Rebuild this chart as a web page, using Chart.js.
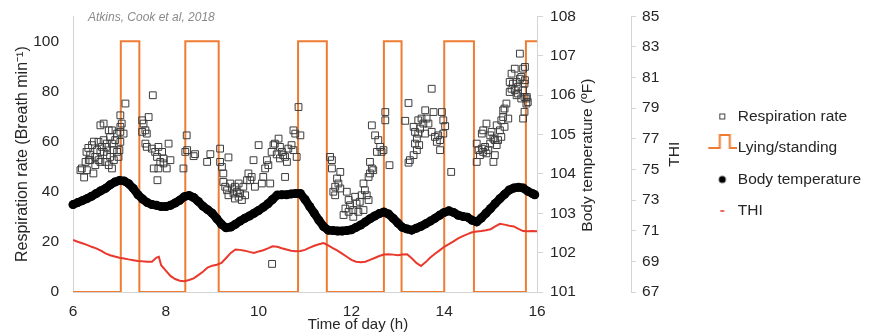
<!DOCTYPE html>
<html><head><meta charset="utf-8">
<script src="https://cdn.jsdelivr.net/npm/chart.js@4.4.1/dist/chart.umd.min.js"></script>
<style>html,body{margin:0;padding:0;background:#fff;}</style>
</head><body>
<canvas id="c" width="871" height="335"></canvas>
<script>
// ---------- DATA ----------
const xTicks = [6, 8, 10, 12, 14, 16];

// Respiration rate (breaths/min) scatter, read per cluster
const rrTimeA = [6.16,6.19,6.24,6.27,6.29,6.30,6.33,6.34,6.37,6.37,6.41,6.44,6.45,6.48,6.48,6.52,6.55,6.55,6.59,6.59,6.59,6.62,6.66,6.66,6.66,6.70,6.72,6.73,6.73,6.77,6.77,6.80,6.80,6.84,6.84,6.84,6.88,6.88,6.91,6.95,6.95,6.98,7.00,7.02,7.02,7.02,7.02,7.05,7.09,7.13];
const rrValueA = [48.6,49.3,45.7,51.9,55.9,48.6,57.5,52.6,54.6,52.6,58.6,47.3,60.0,53.9,50.6,56.6,52.6,59.9,55.9,51.9,66.5,57.9,60.6,67.2,55.9,51.9,57.9,54.6,59.2,50.6,64.5,53.9,61.9,49.3,59.2,64.5,56.6,52.6,60.6,63.2,55.9,53.9,56.6,59.9,63.9,65.9,70.5,67.2,63.2,75.2];
const rrTimeB = [7.49,7.49,7.52,7.56,7.56,7.59,7.59,7.63,7.70,7.72,7.74,7.77,7.81,7.82,7.84,7.84,7.88,7.92,7.95,7.95,8.02,8.06,8.10];
const rrValueB = [68.5,63.9,67.2,64.5,59.2,63.2,57.9,69.8,57.2,78.5,49.3,55.9,53.9,44.6,57.9,49.3,51.9,55.9,51.3,53.3,49.3,59.2,52.6];
const rrTimeC = [8.38,8.42,8.45,8.46,8.60,8.63,8.89,8.96,9.17,9.17,9.21,9.24,9.35];
const rrValueC = [49.3,55.9,62.5,56.6,54.2,55.0,51.9,55.0,57.2,51.9,49.9,47.3,53.7];
const rrTimeD = [9.24,9.28,9.32,9.35,9.39,9.43,9.46,9.49,9.49,9.53,9.57,9.57,9.60,9.64,9.67,9.71,9.75,9.78,9.82,9.85,9.89,9.92,10.00,10.07,10.10,10.14,10.18,10.21,10.25,10.28,10.29,10.32,10.35,10.39,10.43,10.46,10.46,10.50,10.53,10.57,10.57,10.61,10.64,10.71,10.75,10.75,10.79,10.82,10.86,10.90];
const rrValueD = [43.9,42.0,40.6,38.6,43.3,41.3,39.3,42.0,37.3,40.0,38.0,43.3,39.3,36.7,42.0,38.6,44.6,47.3,44.6,45.9,52.6,42.0,58.6,43.3,45.9,49.3,52.6,50.6,43.3,55.9,11.2,58.6,59.2,54.9,61.2,57.9,53.3,55.9,54.6,53.9,45.9,51.9,57.2,58.6,64.5,56.6,63.2,53.9,73.8,62.5];
const rrTimeE = [11.54,11.58,11.58,11.61,11.65,11.65,11.69,11.72,11.76,11.76,11.83,11.87,11.90,11.94,11.94,11.97,12.04,12.04,12.08,12.11,12.15,12.18,12.22,12.26,12.26,12.29,12.33,12.37,12.37,12.40,12.40,12.44,12.44,12.47,12.51,12.55,12.58,12.62,12.65,12.69,12.73,12.73,12.82];
const rrValueE = [53.9,52.6,49.3,40.0,42.0,38.6,45.3,43.3,47.9,41.3,30.7,33.3,40.0,36.7,32.0,34.6,32.7,30.0,38.0,35.3,32.0,36.0,38.6,43.3,32.7,40.6,38.6,36.7,45.9,51.9,47.3,49.3,66.5,48.6,62.5,55.9,60.6,57.9,55.9,56.6,71.8,68.5,50.6];
const rrTimeF = [13.16,13.23,13.23,13.26,13.34,13.34,13.37,13.37,13.41,13.41,13.44,13.44,13.46,13.48,13.51,13.55,13.59,13.59,13.62,13.66,13.73,13.73,13.77,13.80,13.84,13.87,13.91,13.91,13.95,13.98,13.98,14.02,14.15];
const rrValueF = [68.3,75.4,51.6,52.6,65.9,54.6,63.9,59.2,61.2,56.6,68.5,63.2,58.6,65.2,69.2,67.2,72.5,63.2,69.2,67.2,81.1,63.9,71.8,61.9,59.9,62.5,60.6,56.6,71.8,68.5,63.2,66.2,47.9];
const rrTimeG = [14.70,14.70,14.74,14.77,14.81,14.81,14.84,14.84,14.88,14.91,14.91,14.95,14.99,14.99,15.02,15.06,15.06,15.09,15.09,15.13,15.13,15.16,15.20,15.23,15.23,15.27,15.27,15.30,15.30,15.34,15.38,15.41,15.41,15.45,15.45,15.48,15.52,15.52,15.56,15.56,15.59,15.59,15.63,15.63,15.66,15.66,15.70,15.70,15.70,15.73,15.73,15.73,15.74,15.74,15.77,15.77,15.78,15.80];
const rrValueG = [59.2,51.9,56.6,54.6,57.2,63.2,55.9,64.5,57.9,55.3,67.2,56.6,59.2,62.5,63.9,61.2,51.9,54.6,60.6,58.6,66.5,60.6,64.5,61.9,68.5,69.8,72.5,73.2,65.9,75.2,69.2,79.8,83.8,87.1,81.1,83.1,89.1,80.5,83.8,78.5,79.2,81.8,85.1,95.1,77.2,85.8,80.5,89.1,69.2,83.1,77.8,71.9,84.5,89.8,77.2,75.2,77.8,75.8];

// Lying (0) / standing (100) state changes
const lyingTime  = [6, 7.03, 7.43, 8.42, 9.14, 10.85, 11.47, 12.70, 13.08, 14.00, 14.64, 15.76, 16];
const lyingState = [0, 100,  0,    100,  0,    100,   0,     100,   0,     100,   0,     100,   100];

// Body temperature (°F)
const tempTime = [6.0,6.1,6.2,6.3,6.4,6.5,6.6,6.7,6.8,6.9,7.0,7.1,7.2,7.3,7.4,7.5,7.6,7.7,7.8,7.9,8.0,8.1,8.2,8.3,8.4,8.5,8.6,8.7,8.8,8.9,9.0,9.1,9.2,9.3,9.4,9.5,9.6,9.7,9.8,9.9,10.0,10.1,10.2,10.3,10.4,10.5,10.6,10.7,10.8,10.9,11.0,11.1,11.2,11.3,11.4,11.5,11.6,11.7,11.8,11.9,12.0,12.1,12.2,12.3,12.4,12.5,12.6,12.7,12.8,12.9,13.0,13.1,13.2,13.3,13.4,13.5,13.6,13.7,13.8,13.9,14.0,14.1,14.2,14.3,14.4,14.5,14.6,14.7,14.8,14.9,15.0,15.1,15.2,15.3,15.4,15.5,15.6,15.7,15.8,15.9,15.95];
const tempValue = [103.22,103.27,103.32,103.37,103.43,103.50,103.57,103.63,103.72,103.79,103.83,103.82,103.75,103.63,103.47,103.36,103.27,103.22,103.20,103.17,103.17,103.20,103.26,103.33,103.42,103.45,103.40,103.30,103.18,103.09,103.00,102.86,102.72,102.63,102.65,102.72,102.80,102.87,102.93,103.00,103.07,103.15,103.24,103.35,103.46,103.47,103.47,103.49,103.50,103.50,103.35,103.17,103.00,102.82,102.66,102.57,102.56,102.55,102.55,102.56,102.58,102.64,102.70,102.78,102.86,102.93,102.99,103.03,102.98,102.87,102.75,102.64,102.60,102.57,102.62,102.67,102.73,102.80,102.87,102.95,103.02,103.06,103.02,102.95,102.92,102.90,102.82,102.78,102.88,103.00,103.12,103.25,103.37,103.48,103.59,103.64,103.66,103.64,103.56,103.50,103.47];

// THI
const thiTime = [6.0,6.1,6.2,6.3,6.4,6.5,6.6,6.7,6.8,6.9,7.0,7.1,7.2,7.3,7.4,7.5,7.6,7.7,7.8,7.85,7.9,8.0,8.1,8.2,8.3,8.4,8.5,8.6,8.7,8.8,8.9,9.0,9.1,9.2,9.3,9.4,9.5,9.6,9.7,9.8,9.9,10.0,10.1,10.2,10.3,10.4,10.5,10.6,10.7,10.8,10.9,11.0,11.1,11.2,11.3,11.4,11.5,11.6,11.7,11.8,11.9,12.0,12.1,12.2,12.3,12.4,12.5,12.6,12.7,12.8,12.9,13.0,13.1,13.2,13.3,13.4,13.5,13.6,13.7,13.8,13.9,14.0,14.1,14.2,14.3,14.4,14.5,14.6,14.7,14.8,14.9,15.0,15.1,15.2,15.3,15.4,15.5,15.6,15.7,15.8,15.9,16.0];
const thiValue = [70.40,70.28,70.18,70.08,69.95,69.85,69.70,69.52,69.40,69.32,69.24,69.19,69.13,69.08,69.03,69.00,68.98,68.98,69.25,69.30,68.75,68.40,68.05,67.85,67.74,67.71,67.78,67.89,68.10,68.32,68.60,68.72,68.78,68.90,69.22,69.55,69.78,69.75,69.70,69.62,69.55,69.65,69.73,69.85,69.98,69.95,69.86,69.78,69.70,69.66,69.68,69.75,69.90,70.02,70.12,70.20,70.05,69.86,69.70,69.50,69.30,69.10,68.98,68.95,68.98,69.10,69.22,69.35,69.45,69.47,69.44,69.40,69.45,69.47,69.20,68.90,68.70,68.95,69.25,69.50,69.72,69.95,70.12,70.30,70.50,70.65,70.78,70.90,70.95,70.98,71.03,71.10,71.28,71.45,71.40,71.32,71.28,71.12,70.98,70.96,70.98,70.97];

// ---------- BUILD ----------
const zip = (xs, ys) => xs.map((x, i) => ({x: x, y: ys[i]}));
const rrPoints = [].concat(
  zip(rrTimeA, rrValueA), zip(rrTimeB, rrValueB), zip(rrTimeC, rrValueC),
  zip(rrTimeD, rrValueD), zip(rrTimeE, rrValueE), zip(rrTimeF, rrValueF), zip(rrTimeG, rrValueG));

const ORANGE = '#ee7d33', RED = '#e8392c', TXT = '#262626', AXIS = '#d4d4d4';
const FAMILY = '"Liberation Sans", Arial, Helvetica, sans-serif';
Chart.defaults.font.family = FAMILY;
Chart.defaults.font.size = 15.5;
Chart.defaults.color = TXT;

function icon(w, h, draw) { const c = document.createElement('canvas'); c.width = w; c.height = h; draw(c.getContext('2d')); return c; }
const legendIcons = [
  icon(8, 8, g => { g.strokeStyle = '#404040'; g.lineWidth = 1; g.strokeRect(1.5, 1.5, 5, 5); }),
  icon(30, 30, g => { g.strokeStyle = ORANGE; g.lineWidth = 2; g.beginPath(); g.moveTo(1, 15); g.lineTo(12.5, 15); g.lineTo(12.5, 2); g.lineTo(22.5, 2); g.lineTo(22.5, 15); g.lineTo(30, 15); g.stroke(); }),
  icon(10, 10, g => { g.fillStyle = '#000'; g.beginPath(); g.arc(5, 5, 3.5, 0, Math.PI * 2); g.fill(); }),
  icon(8, 4, g => { g.strokeStyle = RED; g.lineWidth = 1.5; g.beginPath(); g.moveTo(2, 2); g.lineTo(6, 2); g.stroke(); })
];

const extraText = {
  id: 'extraText',
  afterDraw(chart) {
    const {ctx, chartArea: a, scales} = chart;
    const midY = (a.top + a.bottom) / 2;
    ctx.save();
    ctx.fillStyle = TXT;
    ctx.textAlign = 'center';
    ctx.textBaseline = 'middle';
    ctx.font = '15.5px ' + FAMILY;
    const vtext = (t, x, y) => { ctx.save(); ctx.translate(x, y); ctx.rotate(-Math.PI / 2); ctx.fillText(t, 0, 0); ctx.restore(); };
    vtext('Body temperature (ºF)', scales.yT.left + 51, midY + 1);
    vtext('THI', scales.yH.left + 44, midY);
    ctx.font = '15px ' + FAMILY;
    ctx.fillText('Time of day (h)', a.left + 285, a.bottom + 33);
    ctx.font = 'italic 12px ' + FAMILY;
    ctx.fillStyle = '#8a8a8a';
    ctx.textAlign = 'left';
    ctx.fillText('Atkins, Cook et al, 2018', a.left + 15, 18);
    ctx.restore();
  }
};

new Chart(document.getElementById('c'), {
  type: 'line',
  data: {
    datasets: [
      { label: 'Respiration rate', data: rrPoints, yAxisID: 'y', showLine: false,
        pointStyle: 'rect', pointRadius: 4.8, pointHoverRadius: 4.8, pointBorderWidth: 1,
        pointBorderColor: '#3c3c3c', pointBackgroundColor: 'rgba(0,0,0,0)',
        borderColor: '#3c3c3c', backgroundColor: 'rgba(0,0,0,0)', order: 2 },
      { label: 'Lying/standing', data: zip(lyingTime, lyingState), yAxisID: 'y', stepped: 'before',
        borderColor: ORANGE, borderWidth: 2, pointRadius: 0, fill: false, order: 3 },
      { label: 'Body temperature', data: zip(tempTime, tempValue), yAxisID: 'yT', showLine: true,
        borderWidth: 8.5, borderCapStyle: 'round', borderJoinStyle: 'round',
        pointRadius: 4.5, pointHoverRadius: 4.5, pointBorderWidth: 0, pointBackgroundColor: '#000',
        borderColor: '#000', backgroundColor: '#000', fill: false, clip: 6, order: 1 },
      { label: 'THI', data: zip(thiTime, thiValue), yAxisID: 'yH',
        borderColor: RED, borderWidth: 2, pointRadius: 0, fill: false, order: 0 }
    ]
  },
  options: {
    responsive: false,
    animation: false,
    devicePixelRatio: 1,
    layout: { padding: { top: 15, right: 0, bottom: 0, left: 0 } },
    plugins: {
      tooltip: { enabled: false },
      legend: {
        position: 'right', align: 'start', maxWidth: 220,
        title: { display: true, text: '', font: { size: 12 }, padding: { top: 63.35, bottom: 0 } },
        labels: {
          usePointStyle: true, padding: 16, color: TXT, font: { size: 15.5 },
          generateLabels: chart => chart.data.datasets.map((ds, i) => ({
            text: ds.label, pointStyle: legendIcons[i], fillStyle: 'rgba(0,0,0,0)',
            strokeStyle: 'rgba(0,0,0,0)', lineWidth: 0, hidden: false, datasetIndex: i, fontColor: TXT
          }))
        }
      }
    },
    scales: {
      x: {
        type: 'linear', position: 'bottom', min: 6, max: 16,
        afterBuildTicks: s => { s.ticks = xTicks.map(v => ({value: v})); },
        afterFit: s => { s.height = 43; },
        grid: { display: false, drawTicks: false },
        border: { display: true, color: AXIS, width: 1 },
        ticks: { padding: 10, color: TXT, maxRotation: 0 }
      },
      y: {
        position: 'left', min: 0, max: 110,
        afterFit: s => { s.width = 73; },
        grid: { display: true, drawOnChartArea: false, drawTicks: true, tickLength: 11, color: 'rgba(0,0,0,0)' },
        border: { display: true, color: AXIS, width: 1 },
        ticks: { stepSize: 20, includeBounds: false, padding: 3, color: TXT },
        title: { display: true, text: 'Respiration rate (Breath min⁻¹)', color: TXT,
                 font: { size: 16 }, padding: { top: 13, bottom: 0 } }
      },
      yT: {
        position: 'right', min: 101, max: 108,
        afterFit: s => { s.width = 94; },
        grid: { display: true, drawOnChartArea: false, drawTicks: true, tickLength: 6, color: AXIS },
        border: { display: true, color: AXIS, width: 1 },
        ticks: { stepSize: 1, padding: 7, color: TXT }
      },
      yH: {
        position: 'right', min: 67, max: 85,
        afterFit: s => { s.width = 67.5; },
        grid: { display: true, drawOnChartArea: false, drawTicks: true, tickLength: 5, color: AXIS },
        border: { display: true, color: AXIS, width: 1 },
        ticks: { stepSize: 2, padding: 6, color: TXT }
      }
    }
  },
  plugins: [extraText]
});
</script>
</body></html>
